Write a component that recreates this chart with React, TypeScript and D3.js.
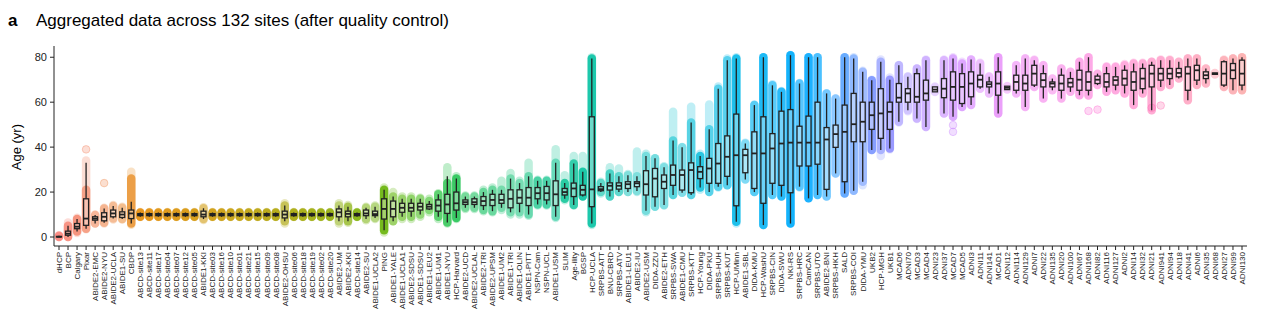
import React from "react";
import * as d3 from "d3";

// ---------------- data (ages in years) ----------------
const sites = [
  "dHCP","BCP","Calgary","Pixar","ABIDE2-EMC","ABIDE2-NYU","ABIDE2-UCLA","ABIDE1-SU","CBDP",
  "ABCD-site13","ABCD-site11","ABCD-site17","ABCD-site04","ABCD-site07","ABCD-site12","ABCD-site05",
  "ABIDE1-KKI",
  "ABCD-site03","ABCD-site16","ABCD-site10","ABCD-site01","ABCD-site21","ABCD-site15","ABCD-site09","ABCD-site08",
  "ABIDE2-OHSU",
  "ABCD-site06","ABCD-site18","ABCD-site19","ABCD-site02","ABCD-site20",
  "ABIDE2-UM","ABIDE2-KKI","ABCD-site14","ABIDE2-SU","ABIDE1-UCLA2","PING","ABIDE1-YALE","ABIDE1-UCLA1",
  "ABIDE2-SDSU","ABIDE1-SDSU","ABIDE1-LEU2","ABIDE1-UM1","ABIDE1-NYU","HCP-Harvard","ABIDE2-UCD","ABIDE2-UCLAL",
  "ABIDE2-TRI","ABIDE2-UPSM","ABIDE1-UM2","ABIDE1-TRI","ABIDE1-OLIN","ABIDE1-PITT","NSPN-Cam","NSPN-UCL","ABIDE1-USM",
  "SLIM","Age-ility","BGSP","HCP-UCLA","SRPBS-ATT","BNU-CBRD","SRPBS-ATV","ABIDE1-LEU1","ABIDE2-IU","ABIDE2-USM",
  "DIDA-ZZU","ABIDE2-ETH","SRPBS-SWA","ABIDE1-CMU","SRPBS-KTT","HCP-Young","DIDA-PKU","SRPBS-HUH","SRPBS-KUT",
  "HCP-UMinn","ABIDE1-SBL","DIDA-KMU","HCP-WashU","SRPBS-CIN","DIDA-SWU","NKI-RS","SRPBS-HRC","CamCAN","SRPBS-UTO",
  "ABIDE2-BNI","SRPBS-HKH","SALD","SRPBS-COI","DIDA-YMU","UKB2","HCP-MGH","UKB1",
  "MCAD6","ADNI70","MCAD3","MCAD4","ADNI23","ADNI37","MCAD7","MCAD5","ADNI3","ADNI11","ADNI141","MCAD1","ADNI12",
  "ADNI114","ADNI129","ADNI7","ADNI22","ADNI135","ADNI20","ADNI100","ADNI67","ADNI168","ADNI82","ADNI116","ADNI127",
  "ADNI2","ADNI14","ADNI32","ADNI21","ADNI941","ADNI94","ADNI18","ADNI41","ADNI6","ADNI35","ADNI68","ADNI27","ADNI99","ADNI130"
];

const ageMin = [
  0, 0, 1.8, 3.5, 6, 6, 7.8, 7.8, 5.5,
  8.9, 8.9, 8.9, 8.9, 8.9, 8.9, 8.9,
  7.6,
  8.9, 8.9, 8.9, 8.9, 8.9, 8.9, 8.9, 8.9,
  6,
  8.9, 8.9, 8.9, 8.9, 8.9,
  6, 6.3, 8.9, 7.5, 8, 2, 7, 8, 8, 9, 11, 8, 6, 8, 12.5, 12.5, 11.5, 11, 12, 10, 10, 9.5, 14, 14, 8.5,
  16.4, 14, 18, 5.3, 19.4, 18, 20, 20, 20, 11, 13.5, 14, 18.7, 19.7, 18.7, 21, 20, 22, 23, 6, 25.6, 20, 5.3, 18.7,
  18, 6, 22, 17.2, 18.7, 18, 28.3, 19.4, 20.6, 23, 38.7, 36, 39,
  51, 56, 52.5, 49, 64.5, 55, 53.5, 57.9, 58.7, 66, 63.9, 55, 65.6, 63.9, 57.9, 66.8, 61.6, 65.3, 61.6, 64.6,
  63.1, 63, 67.6, 64.6, 65.3, 63.9, 58.7, 63.9, 56.4, 66.8, 67.6, 70.5, 60.9, 67.6, 68.3, 72.3, 66.8, 65.3, 65.3
];

const whiskerLo = [
  0, 0, 2.5, 3.7, 6, 6.3, 8.2, 8, 6,
  9, 9, 9, 9, 9, 9, 9,
  8,
  9, 9, 9, 9, 9, 9, 9, 9,
  7,
  9, 9, 9, 9, 9,
  7, 7, 9, 8, 8.5, 3, 7, 9, 9, 10, 12, 9, 6.5, 8.5, 13, 13, 12, 11.5, 13, 11, 11, 10, 14.5, 14.5, 9,
  17, 14.2, 18, 6, 20, 18, 20, 20, 20.5, 11.7, 13.5, 14.2, 18.7, 19.7, 18.7, 22, 20, 22.4, 23, 6.8, 25.6, 20, 5.3,
  18.7, 18, 6, 22.4, 17.2, 18.7, 18, 28.3, 19.4, 20.6, 24.6, 38.7, 38.7, 39.4,
  51.3, 56.4, 52.7, 49, 64.6, 55, 53.5, 57.9, 58.7, 66, 63.9, 55, 65.6, 63.9, 57.9, 66.8, 61.6, 65.3, 61.6, 64.6,
  63.1, 63, 67.6, 64.6, 65.3, 63.9, 58.7, 63.9, 56.4, 66.8, 67.6, 70.5, 60.9, 67.6, 68.3, 72.4, 66.8, 65.3, 65.3
];

const q1 = [
  0.05, 0.8, 3.7, 5.2, 7.5, 7.2, 9, 8.7, 8.2,
  9.5, 9.5, 9.5, 9.5, 9.5, 9.5, 9.5,
  9,
  9.5, 9.5, 9.5, 9.5, 9.5, 9.5, 9.5, 9.5,
  8.5,
  9.5, 9.5, 9.5, 9.5, 9.5,
  9, 9, 9.5, 9.5, 9.5, 8, 9, 11, 11.5, 12, 12.5, 11.5, 10.5, 12, 14.5, 14.5, 14, 14, 15, 13, 15, 14, 17, 16.5, 14,
  18.7, 18, 18.7, 13.5, 20.6, 20.9, 21.3, 21.6, 22.4, 18.7, 17.9, 21.6, 23, 20.9, 19.7, 26, 23.9, 23.9, 27, 13.9,
  28.6, 21.6, 15, 23.9, 23, 19.7, 31.6, 31.6, 32.4, 21.2, 39.9, 24.6, 42.4, 42.4, 47.9, 43.9, 47.9,
  60, 60, 60, 60.9, 64.6, 62, 60.9, 59.4, 62.4, 66.8, 66.8, 63.1, 65.6, 65.3, 65.3, 67.6, 66.8, 66.8, 65.3, 66.8,
  65.3, 65.3, 68.3, 66.8, 67.6, 67.6, 65.3, 66, 66.8, 69.8, 70.5, 71.3, 65.3, 69.8, 70.5, 72.4, 67.6, 70.5, 67.6
];

const median = [
  0.1, 1.5, 4.6, 8.2, 8.2, 9, 10.5, 10, 10.5,
  9.9, 9.9, 9.9, 9.9, 9.9, 9.9, 9.9,
  10,
  9.9, 9.9, 9.9, 9.9, 9.9, 9.9, 9.9, 9.9,
  10,
  9.9, 9.9, 9.9, 9.9, 9.9,
  11, 10.3, 9.9, 10.5, 10.2, 12.5, 12.5, 13, 13, 13.5, 13.5, 14, 14.5, 15, 15.5, 15.5, 16, 16.5, 16.5, 17, 17.5, 17.5, 19.5, 19.5, 19,
  20, 21.6, 21, 21.2, 21.3, 22.8, 22.8, 23.5, 23.9, 23.5, 26, 24.6, 27.6, 27.6, 29.8, 29, 30.5, 32.7, 35.7, 36.4,
  36.4, 37.2, 37.2, 39.4, 41.6, 42, 42, 42, 42, 43.4, 45.8, 46.8, 50.2, 51.3, 54.2, 55, 55.7,
  62, 63.9, 62.4, 63.9, 65.6, 66, 66.8, 66.8, 68.3, 70, 68, 68.3, 66.4, 69, 68.3, 72.7, 69.8, 68.3, 68.3, 68.7,
  70, 69, 70, 69, 69.8, 70.5, 69, 70.5, 72.7, 72.7, 72.7, 73, 72.7, 74.2, 72, 72.7, 72.7, 74.2, 72.7
];

const q3 = [
  0.25, 2.6, 6, 17, 9, 10.8, 12, 11.2, 12,
  10.4, 10.4, 10.4, 10.4, 10.4, 10.4, 10.4,
  11.5,
  10.4, 10.4, 10.4, 10.4, 10.4, 10.4, 10.4, 10.4,
  11.5,
  10.4, 10.4, 10.4, 10.4, 10.4,
  12.5, 11.5, 10.4, 12, 11.5, 17, 16, 15, 15, 15, 14.5, 16.5, 19, 20, 16.5, 17, 18, 19, 19, 21, 21, 22, 22, 22.5, 25,
  21.6, 24, 23, 53.5, 22.4, 24.1, 24.1, 24.6, 24.6, 29.5, 30.5, 27.6, 32, 29.8, 33, 31.3, 35, 41.6, 45, 54.7,
  39, 46.8, 53.5, 46, 56, 56.7, 49.3, 53.8, 60, 48.7, 49.8, 58.7, 63.9, 60, 60, 66, 60,
  68.3, 66, 72.7, 69.8, 66.8, 70.5, 73.5, 72.7, 73.5, 72, 69, 73.5, 67.1, 72, 72, 76.4, 72.7, 69, 72, 70.5,
  74.2, 73.5, 71.6, 72.7, 71.3, 74.2, 73.5, 75, 76.4, 75, 75, 75, 75.7, 76.4, 73.5, 73, 78, 77.2, 78.7
];

const whiskerHi = [
  0.6, 5, 8, 33, 9.8, 12.7, 13.8, 13, 15.7,
  10.9, 10.9, 10.9, 10.9, 10.9, 10.9, 10.9,
  12.8,
  10.9, 10.9, 10.9, 10.9, 10.9, 10.9, 10.9, 10.9,
  14,
  10.9, 10.9, 10.9, 10.9, 10.9,
  14, 13.5, 10.9, 13, 13.5, 21, 18, 17, 17, 17, 16, 19, 27, 26, 18, 18, 20, 21, 21, 26, 24, 27, 25, 25, 33,
  24, 32.7, 29, 79.4, 24, 28.3, 27, 27.5, 27, 36, 35, 31, 43, 39.9, 51, 36, 48, 66, 78.7, 79.4,
  41.6, 58.7, 80, 67.5, 64.6, 80.9, 68.3, 80, 80, 63.9, 61.6, 80, 79.4, 73.5, 69.8, 78, 70,
  76.4, 71.3, 75, 78.7, 66.8, 78.7, 79.4, 77.2, 79, 77.2, 71.3, 80, 67.1, 76.4, 79.4, 78.7, 76.4, 70.5, 75, 73.5,
  78, 80, 72.7, 75.7, 75.7, 76.4, 77.2, 77.2, 78, 78.7, 78.7, 78, 79.4, 79.4, 75, 73, 78.7, 79.4, 80
];

const ageMax = [
  0.8, 6.5, 8.6, 34, 10, 13, 14.2, 13.5, 29,
  11.1, 11.1, 11.1, 11.1, 11.1, 11.1, 11.1,
  13.2,
  11.1, 11.1, 11.1, 11.1, 11.1, 11.1, 11.1, 11.1,
  15,
  11.1, 11.1, 11.1, 11.1, 11.1,
  15, 14.2, 11.1, 13.5, 14, 22, 20, 18, 18, 17.5, 17, 19.5, 31, 27, 18.5, 18.5, 21, 22, 25, 28.5, 25, 33, 25.5, 25.5, 39,
  27.5, 36, 36, 80, 24.6, 31, 30.5, 28, 38, 37, 35, 31.5, 55.7, 40, 58, 37, 59, 67, 79.4, 80,
  42, 59, 80, 68, 65, 81, 68.5, 80, 80, 64, 61.6, 80, 80, 74, 70, 79, 71,
  76.5, 71.5, 75, 79, 67, 79, 80, 78, 79, 77.5, 71.5, 80, 67.2, 76.5, 79.5, 79, 76.5, 70.5, 75, 73.5,
  78, 80, 72.7, 76, 76, 77, 77.5, 77.5, 78, 79, 79, 78, 79.5, 79.5, 75, 73, 79, 79.5, 80
];

// rough number of subjects per site (drives point density)
const sampleSize = [
  400, 300, 300, 150, 50, 60, 40, 40, 300,
  600, 600, 600, 600, 600, 600, 600,
  50,
  600, 600, 600, 600, 600, 600, 600, 600,
  100,
  600, 600, 600, 600, 600,
  40, 150, 600, 40, 30, 600, 60, 60, 60, 40, 40, 80, 150, 250, 40, 40, 60, 60, 40, 40, 40, 60, 150, 150, 60,
  400, 300, 600, 600, 80, 150, 80, 30, 30, 40, 40, 30, 100, 30, 100, 400, 100, 100, 100, 600,
  30, 100, 600, 100, 400, 800, 100, 600, 150, 60, 60, 500, 150, 100, 800, 150, 800,
  80, 30, 80, 80, 10, 50, 100, 100, 60, 20, 20, 100, 10, 30, 30, 30, 30, 20, 30, 30,
  40, 40, 30, 40, 40, 40, 40, 40, 40, 40, 40, 30, 40, 40, 30, 10, 40, 40, 40
];

// sites whose dense cloud of points stops at a different age than the upper whisker
const denseTopSite = ["Pixar", "CBDP", "ABIDE1-NYU"];
const denseTopAge = [21, 26, 24];

const outlierSite = ["Pixar", "ABIDE2-NYU", "MCAD7", "MCAD7", "ADNI168", "ADNI82", "ADNI21", "ADNI941"];
const outlierAge = [39, 24, 49.8, 46.8, 56.1, 56.7, 57.5, 58.5];

const yTicks = [0, 20, 40, 60, 80];

// ggplot-style HCL (polar LUV) hue palette
function hclLuv(h: number, c: number, l: number): string {
  const hr = (h * Math.PI) / 180;
  const u = c * Math.cos(hr), v = c * Math.sin(hr);
  const Xn = 95.047, Yn = 100, Zn = 108.883;
  const den = Xn + 15 * Yn + 3 * Zn;
  const un = (4 * Xn) / den, vn = (9 * Yn) / den;
  const Y = l > 8 ? Yn * Math.pow((l + 16) / 116, 3) : (Yn * l) / 903.3;
  const up = u / (13 * l) + un, vp = v / (13 * l) + vn;
  const X = (Y * 9 * up) / (4 * vp);
  const Z = (Y * (12 - 3 * up - 20 * vp)) / (4 * vp);
  const x = X / 100, y = Y / 100, z = Z / 100;
  const lin = [
    3.2404542 * x - 1.5371385 * y - 0.4985314 * z,
    -0.969266 * x + 1.8760108 * y + 0.041556 * z,
    0.0556434 * x - 0.2040259 * y + 1.0572252 * z,
  ];
  const g = lin.map((t) => {
    const s = t <= 0.0031308 ? 12.92 * t : 1.055 * Math.pow(t, 1 / 2.4) - 0.055;
    return Math.round(Math.max(0, Math.min(1, s)) * 255);
  });
  return `rgb(${g[0]},${g[1]},${g[2]})`;
}

export default function App() {
  const W = 1269, H = 326;
  const x = d3.scalePoint<string>().domain(sites).range([59, 1242]);
  const y = d3.scaleLinear().domain([-4, 85]).range([246, 46]);
  const n = sites.length;
  const color = (i: number) => hclLuv(15 + (360 * i) / n, 100, 65);
  const dens = d3.scaleLog().domain([10, 800]).range([0.14, 0.9]).clamp(true);
  const bandW = 8.5;
  const boxW = 5;
  const font = "Liberation Sans, Arial, Helvetica, sans-serif";
  const ink = "#222";
  const denseTop = (i: number) => {
    const k = denseTopSite.indexOf(sites[i]);
    return k >= 0 ? denseTopAge[k] : whiskerHi[i];
  };

  return (
    <svg width={W} height={H} style={{ position: "absolute", left: 0, top: 0, background: "#fff" }} fontFamily={font}>
      <text x={8} y={26} fontSize={17} fontWeight="bold" fill="#000">a</text>
      <text x={36} y={26} fontSize={17} fill="#000">Aggregated data across 132 sites (after quality control)</text>

      {/* point columns */}
      {sites.map((s, i) => {
        const cx = x(s)!;
        const c = color(i);
        return (
          <g key={"p" + s}>
            <line x1={cx} x2={cx} y1={y(ageMin[i])} y2={y(ageMax[i])} stroke={c} strokeWidth={bandW}
              strokeLinecap="round" strokeOpacity={0.25} />
            <line x1={cx} x2={cx} y1={y(whiskerLo[i])} y2={y(denseTop(i))} stroke={c} strokeWidth={bandW}
              strokeLinecap="round" strokeOpacity={dens(sampleSize[i])} />
          </g>
        );
      })}
      {outlierSite.map((s, k) => {
        const i = sites.indexOf(s);
        return (
          <circle key={"o" + k} cx={x(s)!} cy={y(outlierAge[k])} r={3.8} fill={color(i)} fillOpacity={0.25}
            stroke={color(i)} strokeOpacity={0.35} strokeWidth={1} />
        );
      })}

      {/* boxplots */}
      {sites.map((s, i) => {
        const cx = x(s)!;
        return (
          <g key={"b" + s} stroke={ink} strokeWidth={1.3} fill="none">
            <line x1={cx} x2={cx} y1={y(whiskerHi[i])} y2={y(q3[i])} />
            <line x1={cx} x2={cx} y1={y(q1[i])} y2={y(whiskerLo[i])} />
            <rect x={cx - boxW / 2} width={boxW} y={y(q3[i])} height={Math.max(0.5, y(q1[i]) - y(q3[i]))}
              fill="#fff" fillOpacity={0.35} />
            <line x1={cx - boxW / 2} x2={cx + boxW / 2} y1={y(median[i])} y2={y(median[i])} strokeWidth={1.8} />
          </g>
        );
      })}

      {/* y axis */}
      <line x1={54} x2={54} y1={46} y2={246} stroke={ink} strokeWidth={1} />
      {yTicks.map((t) => (
        <g key={"yt" + t}>
          <line x1={50} x2={54} y1={y(t)} y2={y(t)} stroke={ink} />
          <text x={47} y={y(t)} dy="0.35em" textAnchor="end" fontSize={11} fill={ink}>{t}</text>
        </g>
      ))}
      <text transform={`translate(21,${y(40)}) rotate(-90)`} textAnchor="middle" fontSize={13} fill="#000">Age (yr)</text>

      {/* x axis */}
      <line x1={54} x2={1247} y1={246} y2={246} stroke={ink} strokeWidth={1} />
      {sites.map((s) => (
        <g key={"xt" + s}>
          <line x1={x(s)!} x2={x(s)!} y1={246} y2={250} stroke={ink} />
          <text transform={`translate(${x(s)! + 2.8},252) rotate(-90)`} textAnchor="end" fontSize={8} fill={ink}>{s}</text>
        </g>
      ))}
    </svg>
  );
}
